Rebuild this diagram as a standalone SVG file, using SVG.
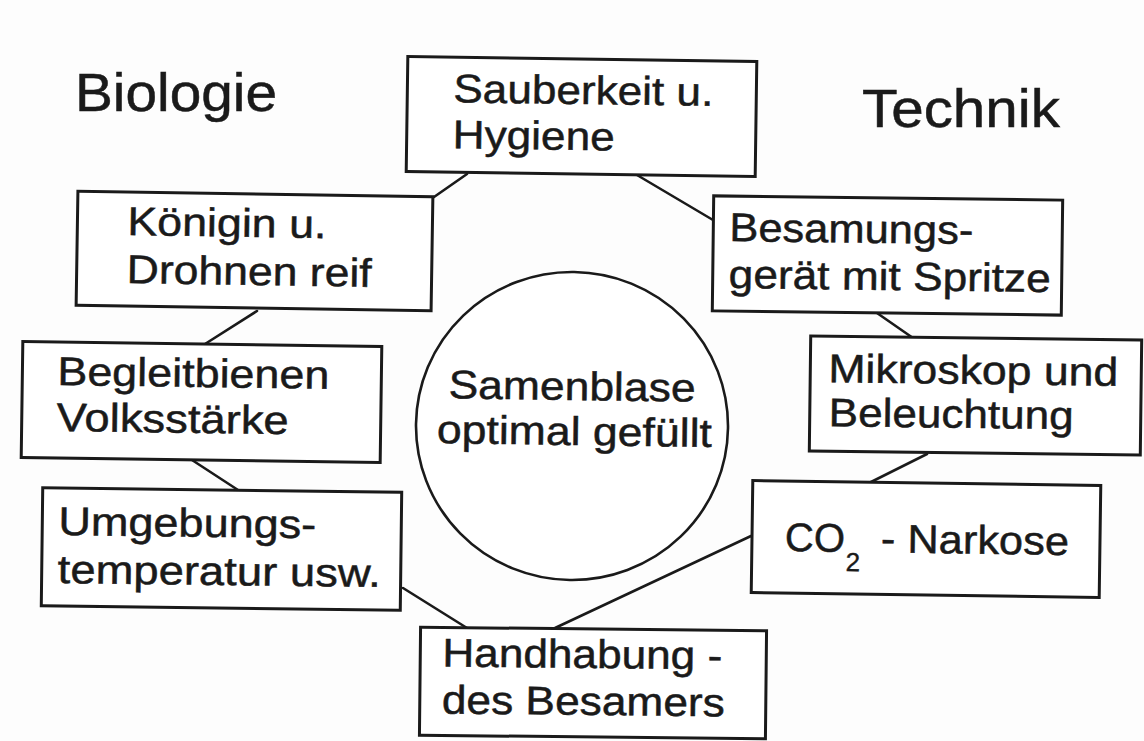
<svg xmlns="http://www.w3.org/2000/svg" width="1144" height="741" viewBox="0 0 1144 741">
<style>
.box{fill:#fff;stroke:#1a1a1a;stroke-width:3}
.t{font-family:"Liberation Sans",Arial,sans-serif;font-size:40px;fill:#1a1a1a;stroke:#1a1a1a;stroke-width:0.5}
.title{font-family:"Liberation Sans",Arial,sans-serif;font-size:53px;fill:#1a1a1a;stroke:#1a1a1a;stroke-width:0.5}
.sub{font-family:"Liberation Sans",Arial,sans-serif;font-size:26px;fill:#1a1a1a;stroke:#1a1a1a;stroke-width:0.4}
.conn line{stroke:#1a1a1a;stroke-width:2.6;stroke-linecap:round}
</style>
<rect width="1144" height="741" fill="#fdfdfd"/>
<g id="connectors" class="conn">
<line x1="467" y1="174" x2="434" y2="197"/>
<line x1="637" y1="175" x2="713" y2="220"/>
<line x1="257" y1="311" x2="205" y2="344"/>
<line x1="192" y1="460" x2="238" y2="490"/>
<line x1="403" y1="588" x2="467" y2="628"/>
<line x1="877" y1="313" x2="913" y2="338"/>
<line x1="927" y1="454" x2="869" y2="483"/>
<line x1="751" y1="536" x2="555" y2="628"/>
</g>
<g id="title-biologie">
<text class="title" x="75" y="111" textLength="202" lengthAdjust="spacingAndGlyphs">Biologie</text>
</g>
<g id="title-technik">
<text class="title" x="862" y="127" textLength="198" lengthAdjust="spacingAndGlyphs">Technik</text>
</g>
<g id="center" transform="rotate(0.8 572 426)">
<ellipse cx="572" cy="426" rx="156" ry="154" fill="#fff" stroke="#1a1a1a" stroke-width="2.6"/>
<text class="t" x="448" y="400" textLength="247" lengthAdjust="spacingAndGlyphs">Samenblase</text>
<text class="t" x="437" y="445" textLength="275" lengthAdjust="spacingAndGlyphs">optimal gefüllt</text>
</g>
<g id="sauberkeit" transform="rotate(0.8 581 117)">
<rect class="box" x="407" y="59" width="349" height="115"/>
<text class="t" x="453" y="104" textLength="260" lengthAdjust="spacingAndGlyphs">Sauberkeit u.</text>
<text class="t" x="453" y="150" textLength="162" lengthAdjust="spacingAndGlyphs">Hygiene</text>
</g>
<g id="koenigin" transform="rotate(0.9 254 251)">
<rect class="box" x="77" y="194" width="355" height="114"/>
<text class="t" x="127" y="237" textLength="199" lengthAdjust="spacingAndGlyphs">Königin u.</text>
<text class="t" x="127" y="285" textLength="245" lengthAdjust="spacingAndGlyphs">Drohnen reif</text>
</g>
<g id="begleitbienen" transform="rotate(0.8 201 402)">
<rect class="box" x="22" y="344" width="359" height="116"/>
<text class="t" x="57" y="387" textLength="272" lengthAdjust="spacingAndGlyphs">Begleitbienen</text>
<text class="t" x="57" y="433" textLength="232" lengthAdjust="spacingAndGlyphs">Volksstärke</text>
</g>
<g id="umgebung" transform="rotate(0.7 221 549)">
<rect class="box" x="42" y="490" width="359" height="118"/>
<text class="t" x="58" y="537" textLength="258" lengthAdjust="spacingAndGlyphs">Umgebungs-</text>
<text class="t" x="58" y="585" textLength="323" lengthAdjust="spacingAndGlyphs">temperatur usw.</text>
</g>
<g id="handhabung" transform="rotate(0.6 593 683)">
<rect class="box" x="420" y="629" width="346" height="108"/>
<text class="t" x="442" y="668" textLength="280" lengthAdjust="spacingAndGlyphs">Handhabung -</text>
<text class="t" x="442" y="715" textLength="283" lengthAdjust="spacingAndGlyphs">des Besamers</text>
</g>
<g id="besamung" transform="rotate(0.7 887 255)">
<rect class="box" x="713" y="198" width="349" height="115"/>
<text class="t" x="729" y="243" textLength="244" lengthAdjust="spacingAndGlyphs">Besamungs-</text>
<text class="t" x="729" y="290" textLength="322" lengthAdjust="spacingAndGlyphs">gerät mit Spritze</text>
</g>
<g id="mikroskop" transform="rotate(0.7 975 396)">
<rect class="box" x="810" y="338" width="331" height="115"/>
<text class="t" x="828" y="384" textLength="290" lengthAdjust="spacingAndGlyphs">Mikroskop und</text>
<text class="t" x="829" y="428" textLength="245" lengthAdjust="spacingAndGlyphs">Beleuchtung</text>
</g>
<g id="co2" transform="rotate(0.8 926 539)">
<rect class="box" x="752" y="483" width="348" height="112"/>
<text class="t" x="785" y="553" textLength="60" lengthAdjust="spacingAndGlyphs">CO</text>
<text class="sub" x="846" y="572">2</text>
<text class="t" x="881" y="553" textLength="188" lengthAdjust="spacingAndGlyphs">- Narkose</text>
</g>
</svg>
